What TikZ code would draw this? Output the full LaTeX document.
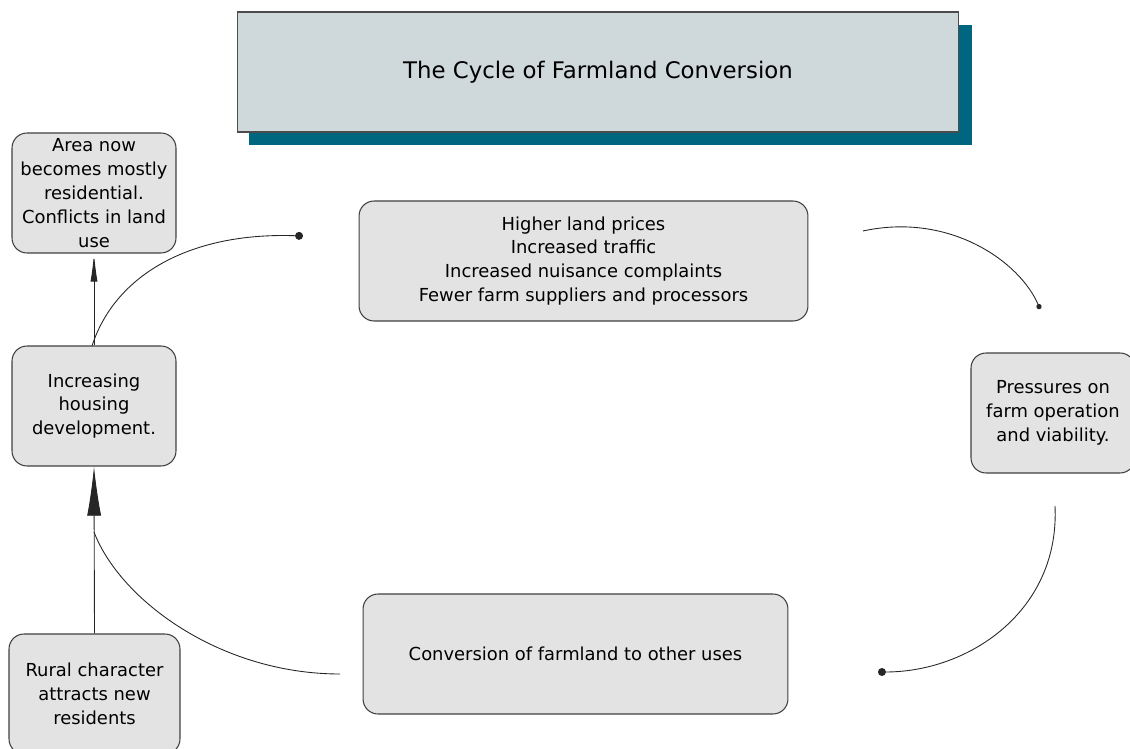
\documentclass[tikz,border=0pt]{standalone}
\usepackage{fontspec}
\setmainfont{DejaVu Sans}
\usetikzlibrary{calc, arrows.meta}

\definecolor{boxgray}{RGB}{227,227,227}
\definecolor{titlegray}{RGB}{207,216,218}
\definecolor{shadowteal}{RGB}{0,102,128}

\begin{document}
\begin{tikzpicture}[x=0.02cm, y=-0.02cm,
  stage/.style={draw=black!75, line width=0.6pt, fill=boxgray, rounded corners=0.3cm,
    align=center, inner sep=2pt, minimum height=2.4cm,
    font=\fontsize{10.2}{13.6}\selectfont},
  flow/.style={line width=0.5pt, black!85},
  dot/.style={-{Circle[length=#1]}}]

\useasboundingbox (0,0) rectangle (1130,749);

% 标题框（带阴影）
\fill[shadowteal] (249,25) rectangle (972,145);
\node[draw=black!70, line width=0.6pt, fill=titlegray, minimum width=14.44cm, minimum height=2.4cm,
  font=\fontsize{13}{15}\selectfont] (title) at (598,72) {The Cycle of Farmland Conversion};

% 各阶段
\node[stage, minimum width=3.28cm] (area) at (94,193)
  {Area now\\becomes mostly\\residential.\\Conflicts in land\\use};
\node[stage, minimum width=3.28cm] (housing) at (94,406)
  {Increasing\\housing\\development.};
\node[stage, minimum width=3.42cm] (rural) at (94.5,694)
  {Rural character\\attracts new\\residents};
\node[stage, minimum width=8.98cm] (prices) at (583.5,261)
  {Higher land prices\\Increased traffic\\Increased nuisance complaints\\Fewer farm suppliers and processors};
\node[stage, minimum width=3.28cm] (pressure) at (1053,413)
  {Pressures on\\farm operation\\and viability.};
\node[stage, minimum width=8.5cm] (convert) at (575.5,654)
  {Conversion of farmland to other uses};

% 直线箭头
\draw[flow, -{Latex[length=16pt, width=4pt]}] (housing.north) -- (area.south);
\draw[flow, -{Latex[length=28pt, width=8pt]}] (rural.north) -- (housing.south);

% 弧线端点
\coordinate (c1s) at (92,346);   \coordinate (c1e) at (303,236);
\coordinate (c2s) at (863,231);  \coordinate (c2e) at (1040,309);
\coordinate (c3s) at (1055,506); \coordinate (c3e) at (878,672);
\coordinate (c4s) at (340,674);  \coordinate (c4e) at (94,532);

% 循环弧线
\draw[flow, dot=4.5pt] (c1s) .. controls (115,275) and (190,232) .. (c1e);
\draw[flow, dot=3pt] (c2s) .. controls (950,212) and (1020,262) .. (c2e);
\draw[flow, dot=4.5pt] (c3s) .. controls (1060,610) and (970,672) .. (c3e);
\draw[flow] (c4s) .. controls (220,674) and (120,600) .. (c4e);

\end{tikzpicture}
\end{document}
